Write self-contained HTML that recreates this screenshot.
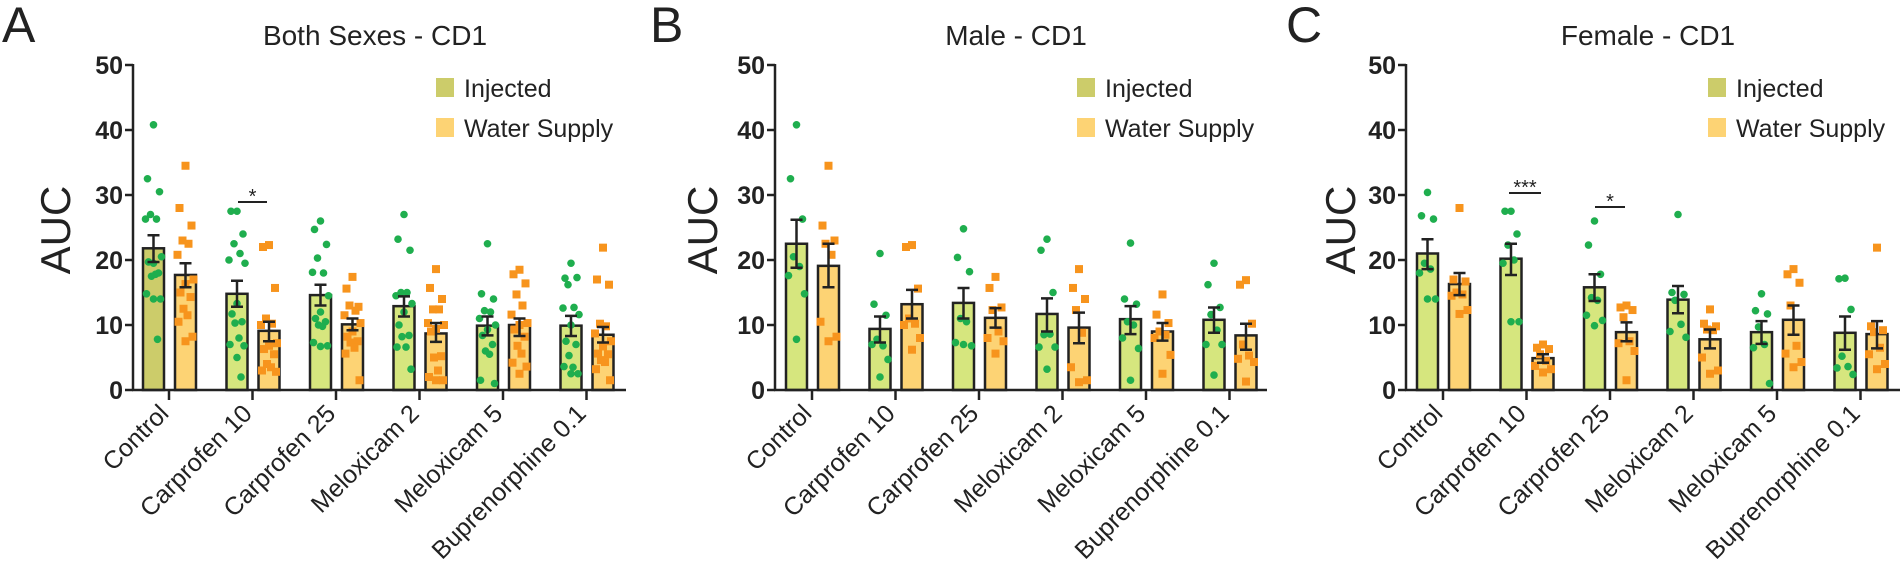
<!DOCTYPE html>
<html><head><meta charset="utf-8"><style>
html,body{margin:0;padding:0;background:#fff;}
svg{display:block;font-family:"Liberation Sans",Arial,sans-serif;}
</style></head><body>
<svg id="s" width="1900" height="578" viewBox="0 0 1900 578" xmlns="http://www.w3.org/2000/svg"></svg>
<script>
var NS="http://www.w3.org/2000/svg",S=document.getElementById('s');
function el(t,a,txt){var e=document.createElementNS(NS,t);for(var k in a)e.setAttribute(k,a[k]);if(txt!=null)e.textContent=txt;S.appendChild(e);return e;}
var Y0=390,K=6.5;function Y(v){return Y0-v*K;}
var labels=["Control","Carprofen 10","Carprofen 25","Meloxicam 2","Meloxicam 5","Buprenorphine 0.1"];
var panels=[
{ax:133,end:626,t0:169,title:"Both Sexes - CD1",tc:375,letter:"A",lx:2,auc:55,lg:436,
 sig:[[238,267,202,"*"]],
 d:[[21.8,19.7,23.8,[40.8,32.5,30.5,27,26.3,26.3,20.5,19.5,19.7,18,17.5,17.8,14.8,14,14,7.8]],
 [17.7,15.8,19.5,[34.5,28,25.3,23,22.5,20.8,17,16.3,15,14.3,12.5,11.5,10.5,8.2,7.5]],
 [14.8,12.8,16.8,[27.5,27.5,24,22.5,21,20,19.5,13.3,11.7,10.5,10.3,8,7,6.8,5,2]],
 [9.1,7.5,10.5,[22.3,22,15.7,11,10.2,10,7.2,6.8,6.3,5.5,4,3.5,3,2.8]],
 [14.6,13,16.2,[26,24.7,22.4,20.3,18,18.1,14.5,12,11,10.5,10,9.8,7.3,6.8,6.7]],
 [10.1,9.2,11,[17.4,15.6,12.8,13,12.2,11.5,10.3,9,8.2,7.5,7.3,6.5,5.6,1.5]],
 [12.9,11.3,14.4,[27,23.2,21.5,15,15,14.5,13.3,12,10,8.4,8.2,6.6,6.6,3.2]],
 [8.7,7.4,10.3,[18.6,15.7,14,12.4,12.4,10.3,10,9.4,9,5.2,5,3,2,1.5,1.5]],
 [9.9,8.4,11.3,[22.5,14.8,14,12.2,12,11,10,9.3,8.4,7,6,5.5,1.5,1]],
 [10,8.3,11,[18.5,17.8,16.4,14.7,13,11.6,10.3,10,9.3,8.2,6.8,5.6,4.2,3.6,2.5]],
 [9.9,8.3,11.4,[19.5,17.2,17.3,16.2,12.7,12.6,11.6,10,7.5,7,5.3,3.5,3.6,2.5,2.5]],
 [8.5,7.3,9.7,[21.9,17,16.2,10.2,9.8,8.7,7.5,6.7,5.6,5.5,4.6,4.3,3.2,1.5]]]},
{ax:775,end:1267,t0:812,title:"Male - CD1",tc:1016,letter:"B",lx:650,auc:702,lg:1077,sig:[],
 d:[[22.5,18.8,26.2,[40.8,32.5,26.3,20.5,19,17.6,14.8,7.8]],
 [19.1,15.8,22.5,[34.5,25.3,23,22.5,20.8,10.5,8.2,7.5]],
 [9.4,7.3,11.3,[21,13.2,11.5,7.8,6.8,7,4.7,2]],
 [13.2,11,15.4,[22.3,22,15.6,11,10.2,10,8,6.2]],
 [13.4,11,15.7,[24.8,20.4,18.2,11,10.5,7.3,6.8,7]],
 [11.1,9.6,12.6,[17.4,15.7,12.7,12.3,9,8,7.5,5.6]],
 [11.7,9,14.1,[23.2,21.5,15,8.5,8.6,6.6,6.6,3.2]],
 [9.6,7.2,11.9,[18.6,15.7,14,12.3,8.8,3.5,1.5,1.2]],
 [10.9,8.6,12.9,[22.6,14,13.2,10.5,10,8,6.4,1.5]],
 [9,7.6,10.3,[14.7,11.6,10.3,9,8.5,8,5.4,2.5]],
 [10.8,8.8,12.7,[19.5,16.2,12.7,11.6,9.2,7,7,2.3]],
 [8.4,6.2,10.2,[16.9,16.2,10.2,7,5.3,4.8,4.3,1.3]]]},
{ax:1406,end:1900,t0:1443,title:"Female - CD1",tc:1648,letter:"C",lx:1286,auc:1340,lg:1708,
 sig:[[1509,1541,193,"***"],[1595,1625,207,"*"]],
 d:[[21,18.6,23.2,[30.4,26.8,26.3,19.5,18.6,18,14,14]],
 [16.3,14.6,18,[28,17,16.7,15,14.7,14.5,12.3,11.7]],
 [20.2,17.7,22.5,[27.5,27.5,24,22.3,20,19.5,10.5,10.5]],
 [4.9,4.2,5.5,[7,6.5,6.3,5.5,4.5,3.7,3.2,2.7]],
 [15.8,13.7,17.8,[26,22.3,17.8,14.2,13.8,11.5,10.7,9.9]],
 [8.9,7.5,10.4,[13,12.7,12.3,11.2,7.5,7.2,6,1.5]],
 [13.9,11.8,16,[27,15,14.7,13.8,10.1,9,8.1]],
 [7.8,6.4,9.3,[12.4,10.2,9.8,9.3,9.2,5,3,2.5]],
 [8.9,7.1,10.6,[14.8,12.2,11.7,9.7,7,6.5,1]],
 [10.8,8.5,13,[18.6,17.8,16.5,13,6.8,5.6,4.3,3.5]],
 [8.8,6.2,11.3,[17.2,17.1,12.4,5.2,3.6,3.4,2.4]],
 [8.6,6.4,10.6,[21.9,9.8,9.2,8.9,6.5,5.5,4,3.2]]]}];
var P=83.5,jit=[0,-6,6,-3,3,-8,8,0,-5,5,-2,2,-7,7,0,4];
panels.forEach(function(p,pi){
  el('text',{x:p.lx,y:42,'font-size':50,fill:'#222'},p.letter);
  el('text',{x:p.tc,y:45,'font-size':28,'text-anchor':'middle',fill:'#222'},p.title);
  el('text',{x:0,y:0,'font-size':42,'text-anchor':'middle',fill:'#222',transform:'translate('+(p.auc+15)+',230) rotate(-90)'},"AUC");
  for(var g=0;g<6;g++){
    var tk=p.t0+g*P;
    for(var s=0;s<2;s++){
      var d=p.d[g*2+s],x0=s==0?tk-26:tk+6,w=21,cx=x0+w/2;
      var fill=s==0?((pi==0&&g==0)?'#cccc6a':'#d6e67e'):'#fdd374';
      el('rect',{x:x0,y:Y(d[0]),width:w,height:Y0-Y(d[0]),fill:fill,stroke:'#222','stroke-width':2.5});
      d[3].forEach(function(v,i){var j=jit[i%jit.length];
        if(s==0)el('circle',{cx:cx+j,cy:Y(v),r:3.8,fill:'#1fae4e'});
        else el('rect',{x:cx+j-4,y:Y(v)-4,width:8,height:8,fill:'#f7941d'});});
      el('path',{d:'M'+cx+' '+Y(d[1])+'V'+Y(d[2])+'M'+(cx-6)+' '+Y(d[1])+'h12M'+(cx-6)+' '+Y(d[2])+'h12',stroke:'#222','stroke-width':2.5,fill:'none'});
    }
    el('line',{x1:tk,y1:Y0,x2:tk,y2:Y0+10,stroke:'#222','stroke-width':2.5});
    el('text',{x:0,y:0,'font-size':25,'text-anchor':'end',fill:'#222',transform:'translate('+(tk+1)+',415) rotate(-45)'},labels[g]);
  }
  el('line',{x1:p.ax,y1:Y(50)-1,x2:p.ax,y2:Y0+1,stroke:'#222','stroke-width':2.5});
  el('line',{x1:p.ax-1,y1:Y0,x2:p.end,y2:Y0,stroke:'#222','stroke-width':2.5});
  for(var v=0;v<=50;v+=10){
    el('line',{x1:p.ax-8,y1:Y(v),x2:p.ax,y2:Y(v),stroke:'#222','stroke-width':2.5});
    el('text',{x:p.ax-10,y:Y(v)+9,'font-size':25,'font-weight':'bold','text-anchor':'end',fill:'#222'},String(v));
  }
  el('rect',{x:p.lg,y:78,width:18,height:19,fill:'#cccc6a'});
  el('text',{x:p.lg+28,y:97,'font-size':25,fill:'#222'},"Injected");
  el('rect',{x:p.lg,y:118,width:18,height:19,fill:'#fdd374'});
  el('text',{x:p.lg+28,y:137,'font-size':25,fill:'#222'},"Water Supply");
  p.sig.forEach(function(q){
    el('line',{x1:q[0],y1:q[2],x2:q[1],y2:q[2],stroke:'#222','stroke-width':2});
    el('text',{x:(q[0]+q[1])/2,y:q[2]+1,'font-size':20,'text-anchor':'middle',fill:'#222'},q[3]);
  });
});
</script>
</body></html>
